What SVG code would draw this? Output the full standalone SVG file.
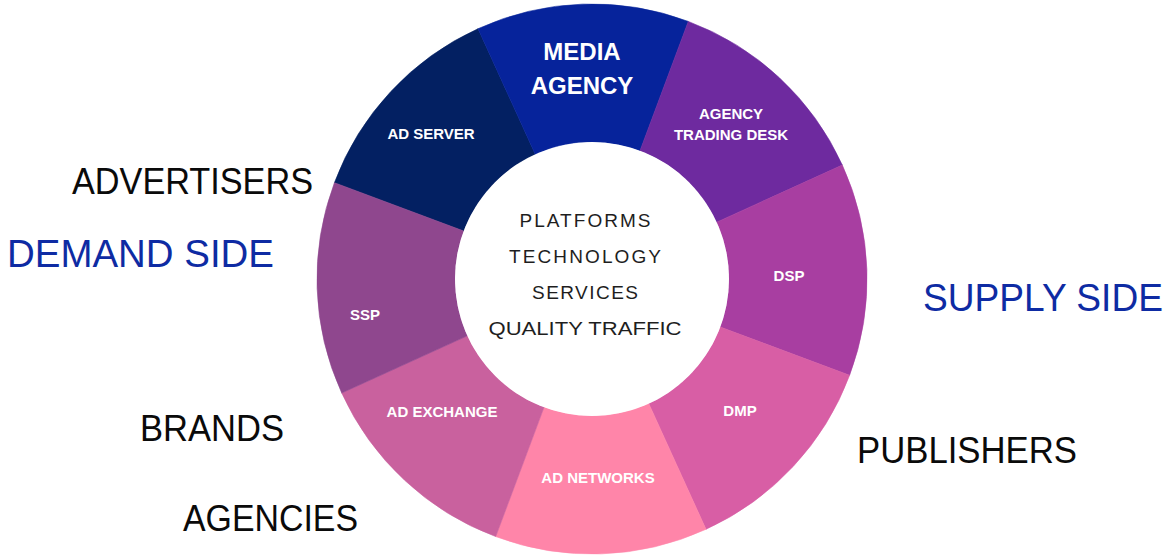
<svg xmlns="http://www.w3.org/2000/svg" width="1172" height="555" viewBox="0 0 1172 555">
<style>
.seg{stroke-width:0.6}
.lbl{font-family:"Liberation Sans",Arial,sans-serif;font-weight:bold;font-size:15px;fill:#ffffff;text-anchor:middle}
.big{font-size:24px}
.ctr{font-family:"Liberation Sans",Arial,sans-serif;font-size:19px;fill:#1e1e1e;text-anchor:middle}
.side{font-family:"Liberation Sans",Arial,sans-serif;font-size:36px;fill:#0a0a0a}
.blue{font-size:38px;fill:#0e2ba3}
</style>
<rect width="1172" height="555" fill="#ffffff"/>
<g id="connectors"/>
<g id="ad-server">
<path class="seg" fill="#032062" stroke="#032062" d="M334.4,182.7 A275,275 0 0 1 478.0,28.7 L535.2,154.3 A137,137 0 0 0 463.7,231.0 Z"/>
<text class="lbl" x="431" y="139">AD SERVER</text>
</g>
<g id="media-agency">
<path class="seg" fill="#06239b" stroke="#06239b" d="M478.0,28.7 A275,275 0 0 1 688.3,21.4 L640.0,150.7 A137,137 0 0 0 535.2,154.3 Z"/>
<text class="lbl big" x="582" y="60">MEDIA</text>
<text class="lbl big" x="582" y="94">AGENCY</text>
</g>
<g id="agency-trading-desk">
<path class="seg" fill="#6e2a9f" stroke="#6e2a9f" d="M688.3,21.4 A275,275 0 0 1 842.3,165.0 L716.7,222.2 A137,137 0 0 0 640.0,150.7 Z"/>
<text class="lbl" x="731" y="119">AGENCY</text>
<text class="lbl" x="731" y="140">TRADING DESK</text>
</g>
<g id="dsp">
<path class="seg" fill="#a83ea1" stroke="#a83ea1" d="M842.3,165.0 A275,275 0 0 1 849.6,375.3 L720.3,327.0 A137,137 0 0 0 716.7,222.2 Z"/>
<text class="lbl" x="789" y="281">DSP</text>
</g>
<g id="dmp">
<path class="seg" fill="#d85ea5" stroke="#d85ea5" d="M849.6,375.3 A275,275 0 0 1 706.0,529.3 L648.8,403.7 A137,137 0 0 0 720.3,327.0 Z"/>
<text class="lbl" x="740" y="416">DMP</text>
</g>
<g id="ad-networks">
<path class="seg" fill="#ff85a9" stroke="#ff85a9" d="M706.0,529.3 A275,275 0 0 1 495.7,536.6 L544.0,407.3 A137,137 0 0 0 648.8,403.7 Z"/>
<text class="lbl" x="598" y="483">AD NETWORKS</text>
</g>
<g id="ad-exchange">
<path class="seg" fill="#c9619e" stroke="#c9619e" d="M495.7,536.6 A275,275 0 0 1 341.7,393.0 L467.3,335.8 A137,137 0 0 0 544.0,407.3 Z"/>
<text class="lbl" x="442" y="417">AD EXCHANGE</text>
</g>
<g id="ssp">
<path class="seg" fill="#8f478e" stroke="#8f478e" d="M341.7,393.0 A275,275 0 0 1 334.4,182.7 L463.7,231.0 A137,137 0 0 0 467.3,335.8 Z"/>
<text class="lbl" x="365" y="320">SSP</text>
</g>
<g id="center">
<circle cx="592" cy="279" r="137" fill="#ffffff"/>
<text class="ctr" x="585" y="227" textLength="131" lengthAdjust="spacing">PLATFORMS</text>
<text class="ctr" x="585" y="263" textLength="152" lengthAdjust="spacing">TECHNOLOGY</text>
<text class="ctr" x="585" y="299" textLength="106" lengthAdjust="spacing">SERVICES</text>
<text class="ctr" x="585" y="335" textLength="193" lengthAdjust="spacingAndGlyphs">QUALITY TRAFFIC</text>
</g>
<g id="advertisers"><text class="side" x="72" y="194" textLength="241" lengthAdjust="spacingAndGlyphs">ADVERTISERS</text></g>
<g id="demand-side"><text class="side blue" x="7" y="267" textLength="267" lengthAdjust="spacingAndGlyphs">DEMAND SIDE</text></g>
<g id="brands"><text class="side" x="140" y="441" textLength="144" lengthAdjust="spacingAndGlyphs">BRANDS</text></g>
<g id="agencies"><text class="side" x="183" y="531" textLength="175" lengthAdjust="spacingAndGlyphs">AGENCIES</text></g>
<g id="supply-side"><text class="side blue" x="923" y="311" textLength="240" lengthAdjust="spacingAndGlyphs">SUPPLY SIDE</text></g>
<g id="publishers"><text class="side" x="857" y="463" textLength="220" lengthAdjust="spacingAndGlyphs">PUBLISHERS</text></g>
</svg>
